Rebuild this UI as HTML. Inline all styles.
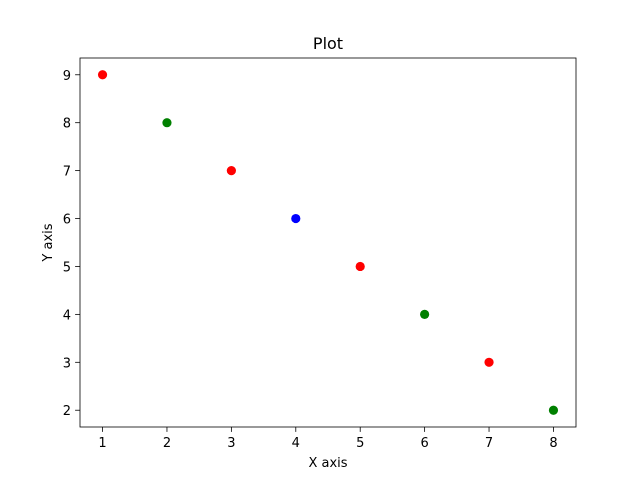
<!DOCTYPE html>
<html><head><meta charset="utf-8"><style>
body{margin:0;background:#fff}
svg text{font-family:"DejaVu Sans","Liberation Sans",sans-serif;fill:#000}
</style></head><body>
<svg width="640" height="480" xmlns="http://www.w3.org/2000/svg">
<rect x="0" y="0" width="640" height="480" fill="#fff"/>
<g id="plot"></g>
</svg>
<script>
const xValues=[1,2,3,4,5,6,7,8];
const yValues=[9,8,7,6,5,4,3,2];
const pointColors=["red","green","red","blue","red","green","red","green"];
const xTicks=[1,2,3,4,5,6,7,8];
const yTicks=[2,3,4,5,6,7,8,9];
const L=80,R=576,T=58,B=427;
const xmin=0.65,xmax=8.35,ymin=1.65,ymax=9.35;
const sx=v=>L+(v-xmin)/(xmax-xmin)*(R-L);
const sy=v=>B-(v-ymin)/(ymax-ymin)*(B-T);
const NS="http://www.w3.org/2000/svg";
const g=document.getElementById('plot');
function mk(t,a,txt){const e=document.createElementNS(NS,t);for(const k in a)e.setAttribute(k,a[k]);if(txt!==undefined)e.textContent=txt;g.appendChild(e);return e;}
xValues.forEach((x,i)=>{
 const c=mk('circle',{cx:sx(x),cy:sy(yValues[i]),r:4.6,fill:pointColors[i]});
 
 
});
const f=mk('rect',{x:L,y:T,width:R-L,height:B-T,fill:'none',stroke:'#000','stroke-width':0.8});


xTicks.forEach(v=>{
 const l=mk('line',{x1:sx(v),x2:sx(v),y1:B,y2:B+4.9,stroke:'#000','stroke-width':0.8});
 
 
 const t=mk('text',{x:sx(v),y:B+20,'text-anchor':'middle','font-size':13},v);
 
 
});
yTicks.forEach(v=>{
 const l=mk('line',{x1:L-4.9,x2:L,y1:sy(v),y2:sy(v),stroke:'#000','stroke-width':0.8});
 
 
 const t=mk('text',{x:L-9,y:sy(v)+5,'text-anchor':'end','font-size':13},v);
 
 
});
const tt=mk('text',{x:(L+R)/2,y:49,'text-anchor':'middle','font-size':16},'Plot');


const xt=mk('text',{x:(L+R)/2,y:467,'text-anchor':'middle','font-size':13},'X axis');


const yt=mk('text',{x:52,y:(T+B)/2,'text-anchor':'middle','font-size':13,transform:'rotate(-90 52 '+((T+B)/2)+')'},'Y axis');


</script>
</body></html>
